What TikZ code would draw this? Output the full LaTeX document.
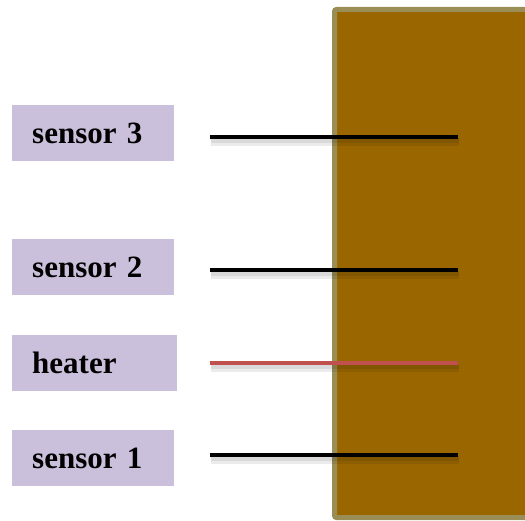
\documentclass[tikz,border=0pt]{standalone}
\usepackage{fontspec}
\setmainfont{Liberation Serif}
\usetikzlibrary{positioning}
\definecolor{boxfill}{RGB}{203,192,219}
\definecolor{slab}{RGB}{153,102,0}
\definecolor{slabedge}{RGB}{154,142,86}
\definecolor{heatred}{RGB}{192,80,77}
\begin{document}
\begin{tikzpicture}[x=1pt,y=-1pt,
  label box/.style={fill=boxfill, draw=none, minimum height=56pt, inner xsep=20pt, inner ysep=0pt,
    text width=122pt, align=left, font=\fontsize{31}{34}\selectfont\bfseries, anchor=north west},
  wire/.style={line width=3.5pt},
  wireshadow/.style={line width=8pt, draw=black, opacity=0.08}]
\useasboundingbox (0,0) rectangle (525,521);
% slab
\draw[fill=slab, draw=slabedge, line width=5pt, rounded corners=2pt] (334.5,9.5) rectangle (540,517.5);
% labels
\node[label box] (s3) at (12,105) {sensor 3};
\node[label box] (s2) at (12,239) {sensor 2};
\node[label box, text width=125pt] (ht) at (12,335) {heater};
\node[label box] (s1) at (12,430) {sensor 1};
% wire ends
\coordinate (a3) at (210,137); \coordinate (b3) at (458,137);
\coordinate (a2) at (210,270); \coordinate (b2) at (458,270);
\coordinate (ah) at (210,363); \coordinate (bh) at (458,363);
\coordinate (a1) at (210,455); \coordinate (b1) at (458,455);
% shadows
\foreach \p/\q in {a3/b3,a2/b2,ah/bh,a1/b1}{
  \draw[wireshadow] ([shift={(1,5)}]\p) -- ([shift={(1,5)}]\q);
  \draw[wireshadow, line width=4pt] ([shift={(1,4)}]\p) -- ([shift={(1,4)}]\q);
}
\draw[wire, black] (a3) -- (b3);
\draw[wire, black] (a2) -- (b2);
\draw[wire, heatred] (ah) -- (bh);
\draw[wire, black] (a1) -- (b1);
\end{tikzpicture}
\end{document}
